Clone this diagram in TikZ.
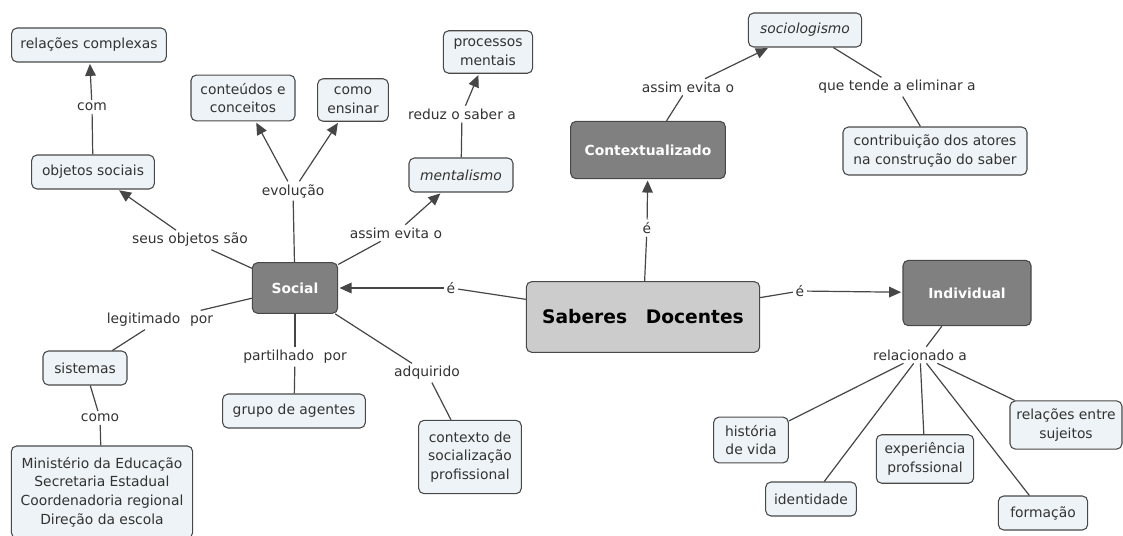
\documentclass[tikz,border=0pt]{standalone}
\usepackage{fontspec}
\setmainfont{DejaVu Sans}
\usetikzlibrary{arrows.meta,positioning}

\definecolor{boxfill}{RGB}{237,243,246}
\definecolor{boxline}{RGB}{72,72,72}
\definecolor{darkfill}{RGB}{128,128,128}
\definecolor{corefill}{RGB}{204,204,204}
\definecolor{linegray}{RGB}{70,70,70}
\definecolor{textgray}{RGB}{50,50,50}

\tikzset{
	lightbox/.style={draw=boxline, fill=boxfill, rounded corners=4pt, line width=0.8pt, align=center,
		inner xsep=4pt, inner ysep=6pt, minimum height=25.5pt, text=textgray,
		font=\fontsize{10.4}{13.9}\selectfont},
	darkbox/.style={lightbox, fill=darkfill, text=white, font=\fontsize{10.4}{13.9}\selectfont\bfseries},
	corebox/.style={lightbox, fill=corefill, text=black, font=\fontsize{14}{16}\selectfont\bfseries},
	lbl/.style={inner sep=2pt, text=textgray, font=\fontsize{10.4}{12}\selectfont},
	link/.style={draw=linegray, line width=0.9pt},
	arr/.style={link, -{Triangle[length=9pt,width=8pt]}, shorten >=1pt},
}

\begin{document}
\begin{tikzpicture}[x=0.75pt,y=-0.75pt]
		\clip (0,0) rectangle (1123,535);
		% main concepts
		\node[corebox, minimum width=175pt, minimum height=53pt] (saberes) at (643,317) {Saberes\hspace{1em}Docentes};
		\node[darkbox, minimum width=64pt, minimum height=38pt] (social) at (295,288) {Social};
		\node[darkbox, minimum width=116pt, minimum height=43pt] (contexto) at (648,150) {Contextualizado};
		\node[darkbox, minimum width=96pt, minimum height=49pt] (individual) at (967,293) {Individual};

		% social branch
		\node[lightbox, minimum width=116pt] (relcompl) at (89,45) {relações complexas};
		\node[lightbox, minimum width=92pt] (objsoc) at (93,172) {objetos sociais};
		\node[lightbox, minimum width=78pt] (conteudos) at (243,98) {conteúdos e\\conceitos};
		\node[lightbox, minimum width=53pt] (ensinar) at (353,100) {como\\ensinar};
		\node[lightbox, minimum width=67pt] (processos) at (488,52) {processos\\mentais};
		\node[lightbox, minimum width=78pt, font=\fontsize{10.4}{13.9}\selectfont\itshape] (mental) at (461,175) {mentalismo};
		\node[lightbox, minimum width=63pt] (sistemas) at (85,368) {sistemas};
		\node[lightbox, minimum width=136pt, minimum height=69pt] (orgaos) at (102,492) {Ministério da Educação\\Secretaria Estadual\\Coordenadoria regional\\Direção da escola};
		\node[lightbox, minimum width=107pt] (grupo) at (294,411) {grupo de agentes};
		\node[lightbox, minimum width=77pt, minimum height=55pt] (socializ) at (470,457) {contexto de\\socialização\\profissional};

		% contextualizado branch
		\node[lightbox, minimum width=85pt, font=\fontsize{10.4}{13.9}\selectfont\itshape] (sociolog) at (805,30) {sociologismo};
		\node[lightbox, minimum width=138pt] (atores) at (935,151) {contribuição dos atores\\na construção do saber};

		% individual branch
		\node[lightbox, minimum width=56pt] (historia) at (751,440) {história\\de vida};
		\node[lightbox, minimum width=68pt] (identidade) at (811,499) {identidade};
		\node[lightbox, minimum width=73pt] (experiencia) at (925,459) {experiência\\profssional};
		\node[lightbox, minimum width=67pt] (formacao) at (1043,513) {formação};
		\node[lightbox, minimum width=84pt] (relsuj) at (1066,425) {relações entre\\sujeitos};

		% linking phrases
		\node[lbl] (eSoc) at (451,288) {é};
		\node[lbl] (eCont) at (647,228) {é};
		\node[lbl] (eInd) at (800,291) {é};
		\node[lbl] (com) at (92,107) {com};
		\node[lbl] (evolucao) at (293,191) {evolução};
		\node[lbl] (seusobj) at (190,240) {seus objetos são};
		\node[lbl] (evitaM) at (396,233) {assim evita o};
		\node[lbl] (reduz) at (462,114) {reduz o saber a};
		\node[lbl] (evitaS) at (688,87) {assim evita o};
		\node[lbl] (tende) at (897,87) {que tende a eliminar a};
		\node[lbl] (legit) at (160,320) {legitimado\hspace{0.7em}por};
		\node[lbl] (como) at (100,418) {como};
		\node[lbl] (partilha) at (295,357) {partilhado\hspace{0.7em}por};
		\node[lbl] (adquirido) at (427,373) {adquirido};
		\node[lbl] (relac) at (920,355) {relacionado a};

		% connectors
		\draw[link] (saberes) -- (eSoc);
		\draw[arr] (eSoc) -- (social);
		\draw[link] (saberes) -- (eCont);
		\draw[arr] (eCont) -- (contexto);
		\draw[link] (saberes) -- (eInd);
		\draw[arr] (eInd) -- (individual);

		\draw[link] (social) -- (seusobj);
		\draw[arr] (seusobj) -- (objsoc);
		\draw[link] (objsoc) -- (com);
		\draw[arr] (com) -- (relcompl);
		\draw[link] (social) -- (evolucao);
		\draw[arr] (evolucao) -- (conteudos);
		\draw[arr] (evolucao) -- (ensinar);
		\draw[link] (social) -- (evitaM);
		\draw[arr] (evitaM) -- (mental);
		\draw[link] (mental) -- (reduz);
		\draw[arr] (reduz) -- (processos);
		\draw[link] (social) -- (legit);
		\draw[link] (legit) -- (sistemas);
		\draw[link] (sistemas) -- (como);
		\draw[link] (como) -- (orgaos);
		\draw[link] (social) -- (partilha);
		\draw[link] (partilha) -- (grupo);
		\draw[link] (social) -- (adquirido);
		\draw[link] (adquirido) -- (socializ);

		\draw[link] (contexto) -- (evitaS);
		\draw[arr] (evitaS) -- (sociolog);
		\draw[link] (sociolog) -- (tende);
		\draw[link] (tende) -- (atores);

		\draw[link] (individual) -- (relac);
		\foreach \n in {historia,identidade,experiencia,formacao,relsuj}
			\draw[link] (relac) -- (\n);
	\end{tikzpicture}
\end{document}
